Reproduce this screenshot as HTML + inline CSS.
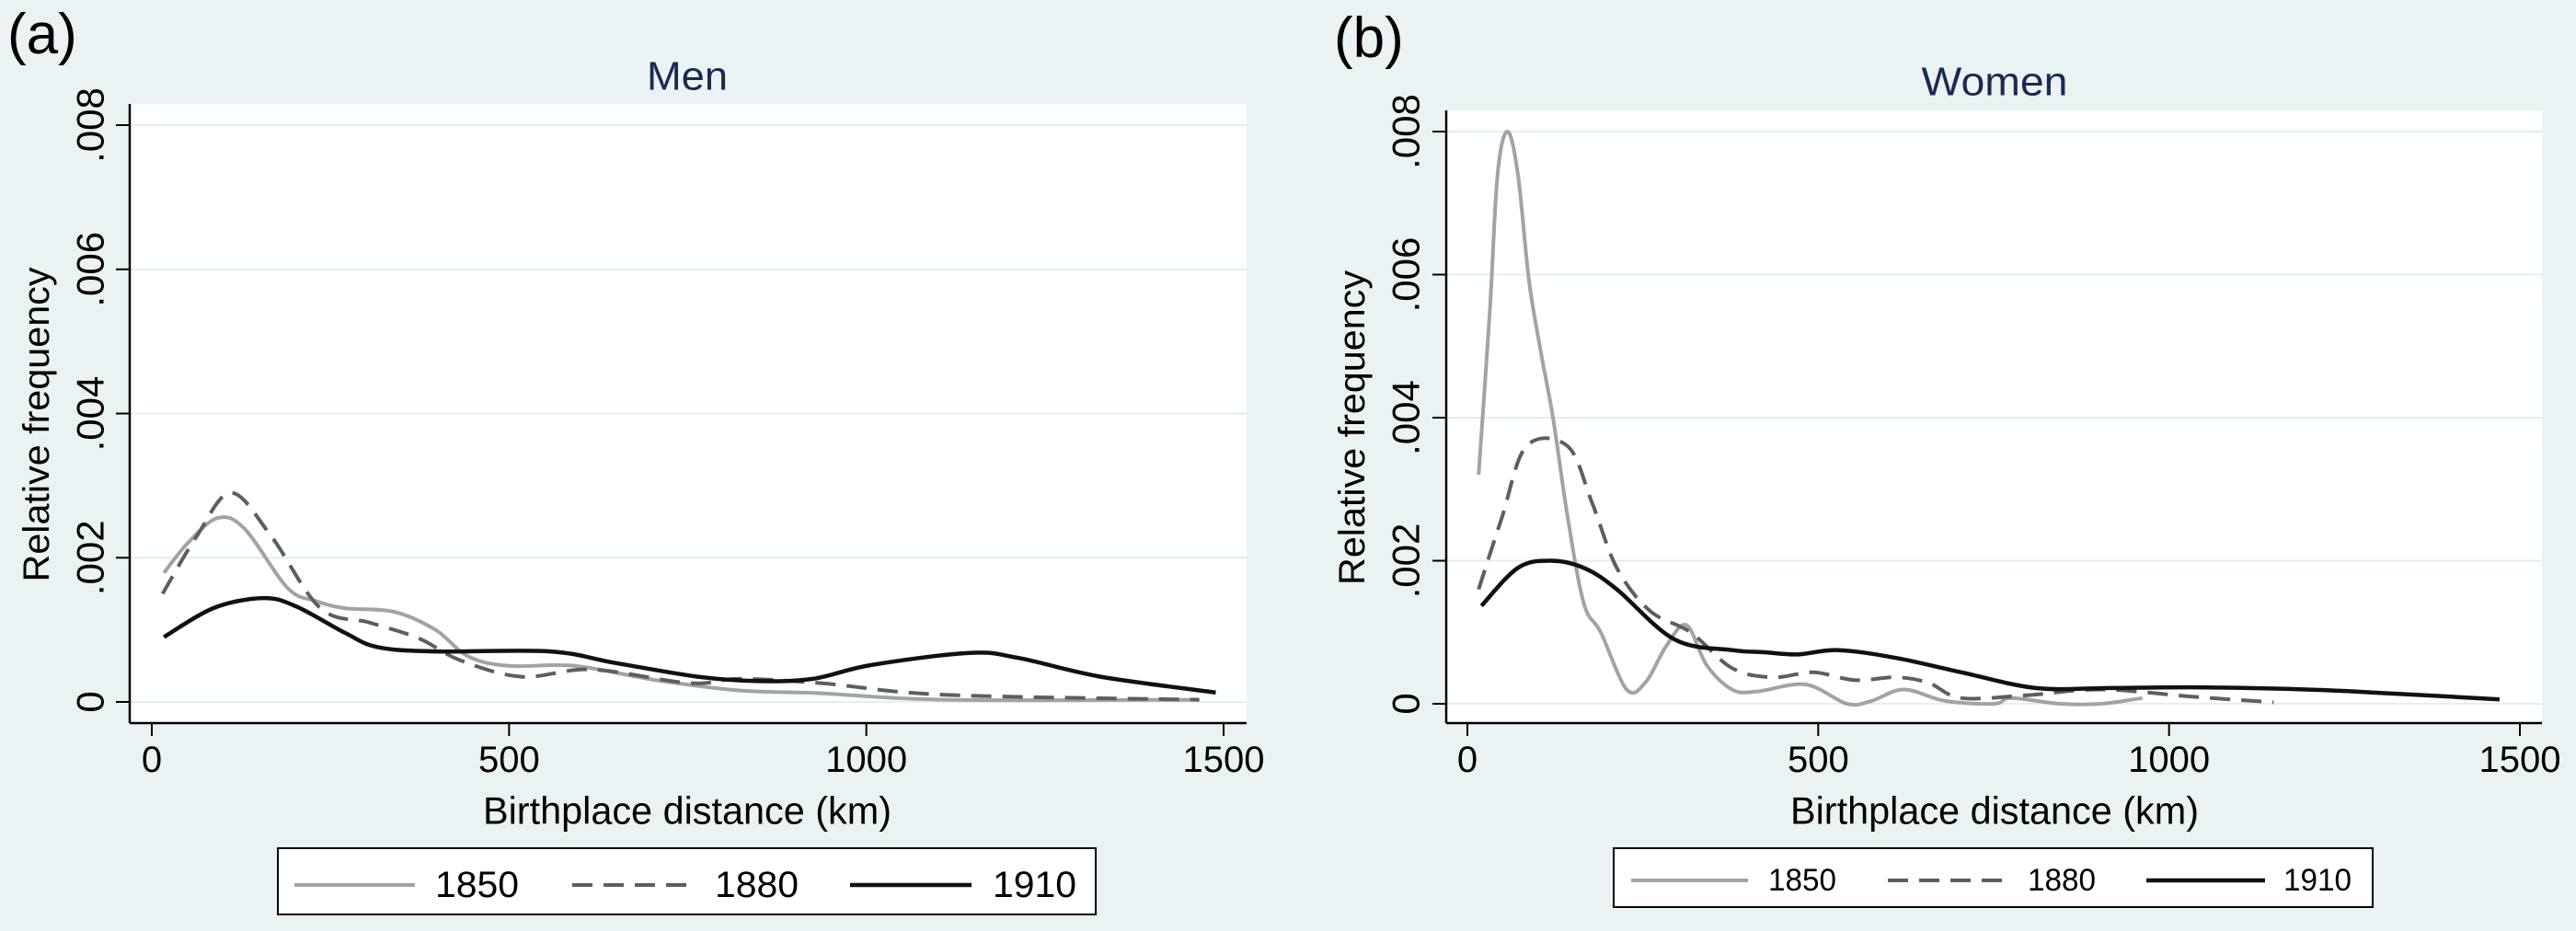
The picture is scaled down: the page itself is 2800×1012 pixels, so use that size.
<!DOCTYPE html>
<html><head><meta charset="utf-8">
<style>
html,body{margin:0;padding:0;background:#eaf2f3;}
svg{display:block;font-family:"Liberation Sans",sans-serif;}
</style></head>
<body>
<svg id="chart" width="2800" height="1012" viewBox="0 0 2800 1012" xmlns="http://www.w3.org/2000/svg">
<rect x="0" y="0" width="2800" height="1012" fill="#eaf2f3"/>
</svg>
<script>
// ---- data ----
const yTicks = [0, 0.002, 0.004, 0.006, 0.008];
const yTickLabels = ["0", ".002", ".004", ".006", ".008"];
const xTicks = [0, 500, 1000, 1500];
const xTickLabels = ["0", "500", "1000", "1500"];
const years = ["1850", "1880", "1910"];

const menKm1850 = [17,50,92,130,190,230,270,339,397,443,500,592,707,822,937,1109,1466];
const menVal1850 = [.00179,.0022,.00255,.0024,.00158,.0014,.0013,.00125,.001,.00063,.0005,.0005,.0003,.00016,.00012,.00003,.00003];
const menKm1880 = [15,63,111,167,236,305,374,431,517,615,753,822,937,1109,1466];
const menVal1880 = [.0015,.0023,.0029,.0023,.0013,.0011,.00088,.00058,.00035,.00045,.00026,.00032,.00026,.0001,.00003];
const menKm1910 = [17,86,155,201,270,316,397,557,649,764,845,925,1006,1144,1213,1328,1489];
const menVal1910 = [.0009,.0013,.00144,.00133,.00096,.00076,.0007,.0007,.00054,.00035,.00029,.00032,.00051,.00068,.00061,.00035,.00013];

const womenKm1850 = [16,32,43,57,72,88,105,122,143,166,190,227,254,283,312,341,377,412,482,541,576,622,681,751,775,845,903,962];
const womenVal1850 = [.0032,.0055,.0074,.008,.0074,.0059,.0049,.004,.0026,.0014,.001,.0002,.0003,.0008,.0011,.00054,.0002,.00017,.00027,0,.00004,.0002,.00004,0,.00008,0,0,.00008];
const womenKm1880 = [16,49,84,143,178,213,260,318,377,435,493,552,612,658,704,798,903,1032,1149];
const womenVal1880 = [.0016,.0026,.0036,.0036,.0028,.0019,.0013,.001,.0005,.00037,.00044,.00033,.00037,.00029,.00008,.00012,.0002,.0001,.00002];
const womenKm1910 = [20,72,119,166,213,295,377,423,470,529,611,704,810,915,1032,1195,1324,1471];
const womenVal1910 = [.00137,.0019,.002,.0019,.0016,.0009,.00075,.00072,.00069,.00075,.00064,.00044,.00022,.00022,.00023,.0002,.00014,.00006];

const NS = "http://www.w3.org/2000/svg";
const svg = document.getElementById("chart");
function mk(tag, attrs, parent, text){
  const e = document.createElementNS(NS, tag);
  for (const k in attrs) e.setAttribute(k, attrs[k]);
  if (text !== undefined) e.textContent = text;
  (parent || svg).appendChild(e);
  return e;
}
function smoothPath(p){
  let d = "M" + p[0][0].toFixed(1) + "," + p[0][1].toFixed(1);
  for (let i = 0; i < p.length - 1; i++){
    const p0 = p[Math.max(0,i-1)], p1 = p[i], p2 = p[i+1], p3 = p[Math.min(p.length-1,i+2)];
    const c1x = p1[0] + (p2[0]-p0[0])/6, c1y = p1[1] + (p2[1]-p0[1])/6;
    const c2x = p2[0] - (p3[0]-p1[0])/6, c2y = p2[1] - (p3[1]-p1[1])/6;
    d += " C" + c1x.toFixed(1) + "," + c1y.toFixed(1) + " " + c2x.toFixed(1) + "," + c2y.toFixed(1) + " " + p2[0].toFixed(1) + "," + p2[1].toFixed(1);
  }
  return d;
}
const styles = [
  {stroke:"#a3a3a3", width:4, dash:null},
  {stroke:"#5e5e5e", width:4, dash:"22 12"},
  {stroke:"#111111", width:4.5, dash:null}
];

function panel(cfg){
  const g = mk("g", {});
  
  
  const xS = v => cfg.x0 + (v/1500)*(cfg.x1500 - cfg.x0);
  const yS = v => cfg.y0 + (v/0.008)*(cfg.y008 - cfg.y0);

  const lbl = mk("text", {x:cfg.lblX, y:cfg.lblY, "font-size":62, fill:"#000"}, g, cfg.label);
  
  

  const t = mk("text", {x:cfg.titleX, y:cfg.titleY, "font-size":44, fill:"#1a2a4f", "text-anchor":"middle", "dominant-baseline":"central", textLength:cfg.titleW, lengthAdjust:"spacingAndGlyphs"}, g, cfg.title);
  
  

  const pa = mk("rect", {x:cfg.left, y:cfg.top, width:cfg.right-cfg.left, height:cfg.bottom-cfg.top, fill:"#fff"}, g);
  
  

  yTicks.forEach((v,i)=>{
    const y = yS(v);
    const gl = mk("line", {x1:cfg.left, x2:cfg.right, y1:y, y2:y, stroke:"#e4eef0", "stroke-width":2}, g);
    
    
    const tk = mk("line", {x1:cfg.left-15, x2:cfg.left, y1:y, y2:y, stroke:"#000", "stroke-width":2}, g);
    
    
    const tx = mk("text", {x:0, y:0, "font-size":42, "text-anchor":"middle", "dominant-baseline":"central", transform:`translate(${cfg.yLabX},${y}) rotate(-90)`}, g, yTickLabels[i]);
    
    
  });
  xTicks.forEach((v,i)=>{
    const x = xS(v);
    const tk = mk("line", {x1:x, x2:x, y1:cfg.bottom, y2:cfg.bottom+14, stroke:"#000", "stroke-width":2}, g);
    
    
    const tx = mk("text", {x:x, y:cfg.xLabY, "font-size":40, "text-anchor":"middle", "dominant-baseline":"central"}, g, xTickLabels[i]);
    
    
  });
  const ya = mk("line", {x1:cfg.left, x2:cfg.left, y1:cfg.top, y2:cfg.bottom, stroke:"#000", "stroke-width":2.5}, g);
  
  
  const xa = mk("line", {x1:cfg.left, x2:cfg.right, y1:cfg.bottom, y2:cfg.bottom, stroke:"#000", "stroke-width":2.5}, g);
  
  

  const yt = mk("text", {x:0, y:0, "font-size":40, "text-anchor":"middle", "dominant-baseline":"central", textLength:342, lengthAdjust:"spacingAndGlyphs", transform:`translate(${cfg.yTitleX},${(cfg.top+cfg.bottom)/2+12}) rotate(-90)`}, g, "Relative frequency");
  
  
  const xt = mk("text", {x:cfg.xTitleX, y:881, "font-size":42, "text-anchor":"middle", "dominant-baseline":"central", textLength:444, lengthAdjust:"spacingAndGlyphs"}, g, "Birthplace distance (km)");
  
  

  cfg.series.forEach((s,i)=>{
    const pts = s.km.map((k,j)=>[xS(k), yS(s.val[j])]);
    const a = {d:smoothPath(pts), fill:"none", stroke:styles[i].stroke, "stroke-width":styles[i].width, "stroke-linejoin":"round", "stroke-linecap":"butt"};
    if (styles[i].dash) a["stroke-dasharray"] = styles[i].dash;
    const pl = mk("path", a, g);
    
    
  });

  const L = cfg.legend;
  const lb = mk("rect", {x:L.x, y:L.y, width:L.w, height:L.h, fill:"#fff", stroke:"#000", "stroke-width":2}, g);
  
  
  years.forEach((yr,i)=>{
    const e = L.entries[i];
    const a = {x1:e.l0, x2:e.l1, y1:L.cy, y2:L.cy, stroke:styles[i].stroke, "stroke-width":styles[i].width};
    if (styles[i].dash) a["stroke-dasharray"] = styles[i].dash;
    const sw = mk("line", a, g);
    
    
    const tx = mk("text", {x:e.t, y:L.cy, "font-size":L.fs, "dominant-baseline":"central", textLength:L.tw, lengthAdjust:"spacingAndGlyphs"}, g, yr);
    
    
  });
}

panel({
  name:"panel-men", label:"(a)", lblX:8, lblY:58, title:"Men", titleX:747, titleY:83, titleW:88,
  left:141, right:1355, top:113, bottom:786,
  x0:165, x1500:1330, y0:763, y008:136,
  yLabX:98, yTitleX:40, xLabY:826, xTitleX:747,
  series:[{km:menKm1850,val:menVal1850},{km:menKm1880,val:menVal1880},{km:menKm1910,val:menVal1910}],
  legend:{x:302, y:922, w:889, h:72, cy:962, fs:40, tw:91,
    entries:[{l0:320,l1:451,t:473},{l0:622,l1:754,t:777},{l0:924,l1:1056,t:1079}]}
});
panel({
  name:"panel-women", label:"(b)", lblX:1450, lblY:62, title:"Women", titleX:2168, titleY:89, titleW:159,
  left:1572, right:2763, top:120, bottom:786,
  x0:1595, x1500:2739, y0:765, y008:143,
  yLabX:1528, yTitleX:1470, xLabY:826, xTitleX:2168,
  series:[{km:womenKm1850,val:womenVal1850},{km:womenKm1880,val:womenVal1880},{km:womenKm1910,val:womenVal1910}],
  legend:{x:1754, y:922, w:825, h:64, cy:957, fs:34, tw:74,
    entries:[{l0:1773,l1:1900,t:1922},{l0:2052,l1:2181,t:2204},{l0:2333,l1:2462,t:2482}]}
});
</script>
</body></html>
